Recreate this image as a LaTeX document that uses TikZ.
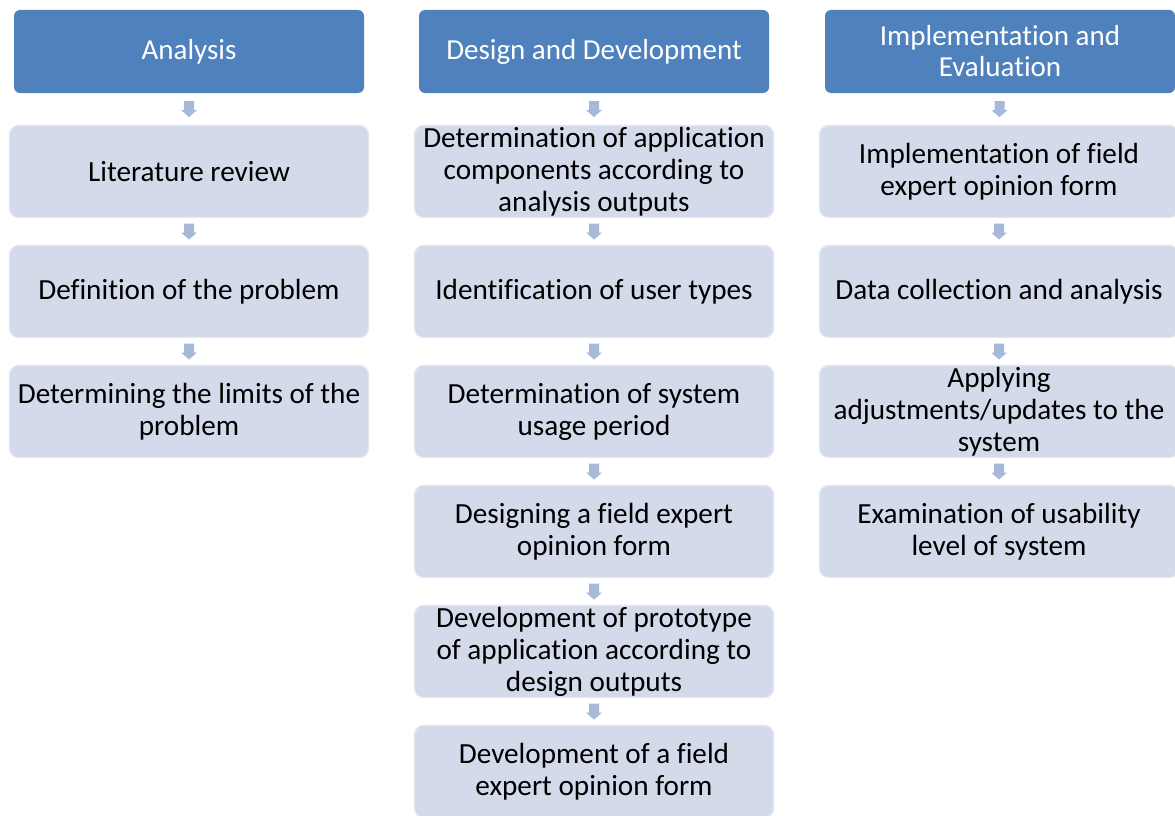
\documentclass[tikz,border=0pt]{standalone}
\usepackage{fontspec}
\setmainfont[Ligatures={NoCommon}]{Carlito}
\usetikzlibrary{calc}
\definecolor{hdrcol}{HTML}{4F81BD}
\definecolor{boxcol}{HTML}{D3DAE9}
\definecolor{boxedge}{HTML}{E3E8F2}
\definecolor{arrcol}{HTML}{A7B9D8}
\tikzset{
  hdr/.style={rectangle, rounded corners=6pt, fill=hdrcol, text=white, minimum width=350pt, minimum height=83pt, align=center, inner sep=0pt, font=\fontsize{29}{31}\selectfont},
  stepbox/.style={rectangle, rounded corners=9pt, fill=boxcol, draw=boxedge, line width=1.2pt, minimum width=359pt, minimum height=92pt, align=center, inner sep=0pt, font=\fontsize{29.2}{32}\selectfont},
}
\newcommand{\flowarrow}[2]{%
  \path ($(#1.south)!0.5!(#2.north)$) coordinate (m-#1-#2);
  \fill[arrcol] ($(m-#1-#2)+(-5,-8)$) -- ($(m-#1-#2)+(5,-8)$) -- ($(m-#1-#2)+(5,1)$) -- ($(m-#1-#2)+(8,1)$) -- ($(m-#1-#2)+(0,8)$) -- ($(m-#1-#2)+(-8,1)$) -- ($(m-#1-#2)+(-5,1)$) -- cycle;
}
\begin{document}
\begin{tikzpicture}[x=1pt,y=-1pt]
\clip (0,0) rectangle (1175,816);
\fill[white] (0,0) rectangle (1175,816);
% column 1
\node[hdr] (h1) at (189,51.5) {Analysis};
\node[stepbox] (a1) at (189,171.5) {Literature review};
\node[stepbox] (a2) at (189,291.5) {Definition of the problem};
\node[stepbox] (a3) at (189,411.5) {Determining the limits of the\\problem};
% column 2
\node[hdr] (h2) at (594,51.5) {Design and Development};
\node[stepbox] (b1) at (594,171.5) {Determination of application\\components according to\\analysis outputs};
\node[stepbox] (b2) at (594,291.5) {Identification of user types};
\node[stepbox] (b3) at (594,411.5) {Determination of system\\usage period};
\node[stepbox] (b4) at (594,531.5) {Designing a field expert\\opinion form};
\node[stepbox] (b5) at (594,651.5) {Development of prototype\\of application according to\\design outputs};
\node[stepbox] (b6) at (594,771.5) {Development of a field\\expert opinion form};
% column 3
\node[hdr] (h3) at (1000,51.5) {Implementation and\\Evaluation};
\node[stepbox] (c1) at (999,171.5) {Implementation of field\\expert opinion form};
\node[stepbox] (c2) at (999,291.5) {Data collection and analysis};
\node[stepbox] (c3) at (999,411.5) {Applying\\adjustments/updates to the\\system};
\node[stepbox] (c4) at (999,531.5) {Examination of usability\\level of system};
% arrows
\flowarrow{h1}{a1}\flowarrow{a1}{a2}\flowarrow{a2}{a3}
\flowarrow{h2}{b1}\flowarrow{b1}{b2}\flowarrow{b2}{b3}\flowarrow{b3}{b4}\flowarrow{b4}{b5}\flowarrow{b5}{b6}
\flowarrow{h3}{c1}\flowarrow{c1}{c2}\flowarrow{c2}{c3}\flowarrow{c3}{c4}
\end{tikzpicture}
\end{document}
